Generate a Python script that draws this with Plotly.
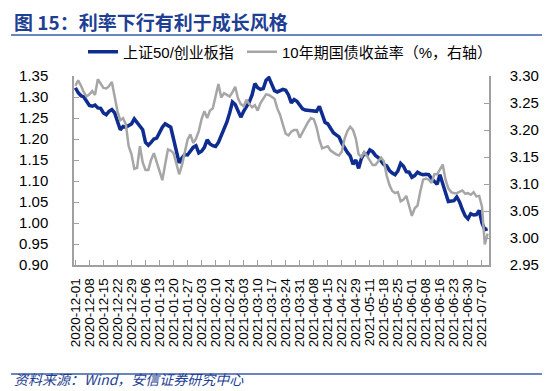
import pandas as pd
import plotly.graph_objects as go

# Chinese market holidays (weekday closures) in the period
holidays = ["2021-01-01", "2021-02-11", "2021-02-12", "2021-02-15", "2021-02-16",
            "2021-02-17", "2021-04-05", "2021-05-03", "2021-05-04", "2021-05-05",
            "2021-06-14"]
days = pd.bdate_range("2020-12-01", "2021-07-09")
days = [d for d in days if d.strftime("%Y-%m-%d") not in holidays]
dates = [d.strftime("%Y-%m-%d") for d in days]

# 上证50/创业板指 (left axis)
ratio = [
    1.322, 1.310, 1.303, 1.300, 1.290, 1.280, 1.278, 1.281, 1.274, 1.273,
    1.262, 1.258, 1.266, 1.270, 1.262, 1.240, 1.222, 1.230, 1.228, 1.232,
    1.236, 1.248, 1.240, 1.230, 1.222, 1.192, 1.185, 1.192, 1.200, 1.202,
    1.216, 1.228, 1.236, 1.232, 1.228, 1.200, 1.175, 1.143, 1.155, 1.163,
    1.162, 1.170, 1.180, 1.184, 1.167, 1.171, 1.180, 1.198, 1.188, 1.184,
    1.182, 1.192, 1.208, 1.222, 1.240, 1.262, 1.288, 1.282, 1.265, 1.252,
    1.266, 1.278, 1.288, 1.305, 1.332, 1.322, 1.318, 1.320, 1.340, 1.346,
    1.330, 1.315, 1.312, 1.314, 1.318, 1.316, 1.305, 1.286, 1.294, 1.290,
    1.282, 1.272, 1.269, 1.268, 1.268, 1.265, 1.266, 1.278, 1.260, 1.240,
    1.236, 1.225, 1.215, 1.210, 1.205, 1.190, 1.177, 1.168, 1.160, 1.140,
    1.150, 1.130, 1.154, 1.166, 1.162, 1.174, 1.170, 1.161, 1.156, 1.148,
    1.139, 1.136, 1.125, 1.119, 1.115, 1.124, 1.142, 1.135, 1.122, 1.121,
    1.109, 1.113, 1.121, 1.117, 1.115, 1.116, 1.115, 1.106, 1.099, 1.092,
    1.115, 1.090, 1.072, 1.051, 1.051, 1.053, 1.062, 1.050, 1.032, 1.017,
    1.010, 1.022, 1.019, 1.020, 1.030, 1.000, 0.984, 0.986,
]

# 10年期国债收益率 (right axis, %)
yield10 = [
    3.282, 3.292, 3.282, 3.270, 3.262, 3.266, 3.272, 3.265, 3.294, 3.287,
    3.278, 3.277, 3.281, 3.289, 3.265, 3.235, 3.218, 3.222, 3.210, 3.170,
    3.155, 3.128, 3.130, 3.170, 3.140, 3.126, 3.126, 3.145, 3.157, 3.140,
    3.120, 3.107, 3.136, 3.164, 3.162, 3.157, 3.138, 3.118, 3.135, 3.158,
    3.182, 3.192, 3.176, 3.184, 3.198, 3.220, 3.235, 3.222, 3.236, 3.240,
    3.262, 3.285, 3.260, 3.268, 3.265, 3.262, 3.270, 3.280, 3.258, 3.248,
    3.244, 3.256, 3.248, 3.242, 3.246, 3.236, 3.250, 3.259, 3.266, 3.265,
    3.262, 3.258, 3.240, 3.228, 3.210, 3.193, 3.190, 3.197, 3.200, 3.200,
    3.186, 3.196, 3.204, 3.215, 3.222, 3.220, 3.205, 3.182, 3.166, 3.168,
    3.170, 3.162, 3.158, 3.155, 3.153, 3.160, 3.184, 3.198, 3.206, 3.200,
    3.184, 3.155, 3.150, 3.159, 3.152, 3.144, 3.135, 3.135, 3.142, 3.149,
    3.142, 3.116, 3.098, 3.087, 3.083, 3.085, 3.068, 3.071, 3.078, 3.058,
    3.041, 3.055, 3.060, 3.086, 3.108, 3.110, 3.108, 3.102, 3.118, 3.118,
    3.128, 3.136, 3.108, 3.092, 3.085, 3.083, 3.083, 3.086, 3.088, 3.082,
    3.083, 3.080, 3.085, 3.077, 3.078, 3.058, 2.988, 3.008,
]

tick_dates = dates[::5]

BLUE = "#0F2C90"
GRAY = "#A6A6A6"
AXIS = "#A0A0A0"
TITLE_BLUE = "#1F3F94"
FONT = "Liberation Sans, Arial, Noto Sans CJK SC, sans-serif"

fig = go.Figure()
fig.add_trace(go.Scatter(x=dates, y=ratio, mode="lines", name="上证50/创业板指",
                         line=dict(color=BLUE, width=3.5), legend="legend"))
fig.add_trace(go.Scatter(x=dates, y=yield10, mode="lines", name="10年期国债收益率（%，右轴）",
                         line=dict(color=GRAY, width=2.5), yaxis="y2", legend="legend2"))

# plot area in pixels: x 66..481, y 68..257
L, R, T, B = 66, 481, 68, 257
W, H = R - L, B - T
def px(x):
    return (x - L) / W
def py(y):
    return (B - y) / H

legend_font = dict(size=15, family="Liberation Sans, Noto Sans CJK SC", color="#000000")

fig.update_layout(
    width=550, height=391,
    margin=dict(l=L, r=550 - R, t=T, b=391 - B),
    paper_bgcolor="white", plot_bgcolor="white",
    font=dict(family=FONT, size=14, color="#000000"),
    showlegend=True,
    legend=dict(orientation="h", x=px(75), y=py(44), xanchor="left", yanchor="middle",
                font=legend_font, bgcolor="rgba(0,0,0,0)", itemwidth=30),
    legend2=dict(orientation="h", x=px(234), y=py(44), xanchor="left", yanchor="middle",
                 font=legend_font, bgcolor="rgba(0,0,0,0)", itemwidth=30),
    xaxis=dict(type="category", categoryorder="array", categoryarray=dates,
               range=[-0.5, len(dates) - 0.5],
               tickmode="array", tickvals=tick_dates, ticktext=tick_dates,
               tickangle=-90, tickfont=dict(size=13.5),
               showline=True, linecolor=AXIS, linewidth=1.5,
               ticks="inside", ticklen=5, tickcolor=AXIS, showgrid=False, zeroline=False,
               ticklabelstandoff=6),
    yaxis=dict(range=[0.90, 1.35], dtick=0.05, tick0=0.90, tickformat=".2f",
               tickfont=dict(size=15),
               showline=True, linecolor=AXIS, linewidth=1.5,
               ticks="inside", ticklen=5, tickcolor=AXIS, showgrid=False, zeroline=False,
               ticklabelstandoff=21),
    yaxis2=dict(range=[2.95, 3.30], dtick=0.05, tick0=2.95, tickformat=".2f",
                tickfont=dict(size=15),
                overlaying="y", side="right",
                showline=True, linecolor=AXIS, linewidth=1.5,
                ticks="inside", ticklen=5, tickcolor=AXIS, showgrid=False, zeroline=False,
                ticklabelstandoff=16),
    shapes=[
        dict(type="line", xref="paper", yref="paper", x0=px(3), x1=px(548),
             y0=py(27), y1=py(27), line=dict(color="#3A5DA8", width=1.5)),
        dict(type="line", xref="paper", yref="paper", x0=px(3), x1=px(548),
             y0=py(366), y1=py(366), line=dict(color="#3A5DA8", width=1.5)),
    ],
    annotations=[
        dict(xref="paper", yref="paper", x=px(4), y=py(13), xanchor="left", yanchor="middle",
             text="<b>图 15：利率下行有利于成长风格</b>", showarrow=False,
             font=dict(size=19, color=TITLE_BLUE, family="Noto Sans CJK SC")),
        dict(xref="paper", yref="paper", x=px(4), y=py(371), xanchor="left", yanchor="middle",
             text="<i>资料来源：Wind，安信证券研究中心</i>", showarrow=False,
             font=dict(size=14, color=TITLE_BLUE, family="Noto Sans CJK SC")),
    ],
)

fig.write_html("out.html")
